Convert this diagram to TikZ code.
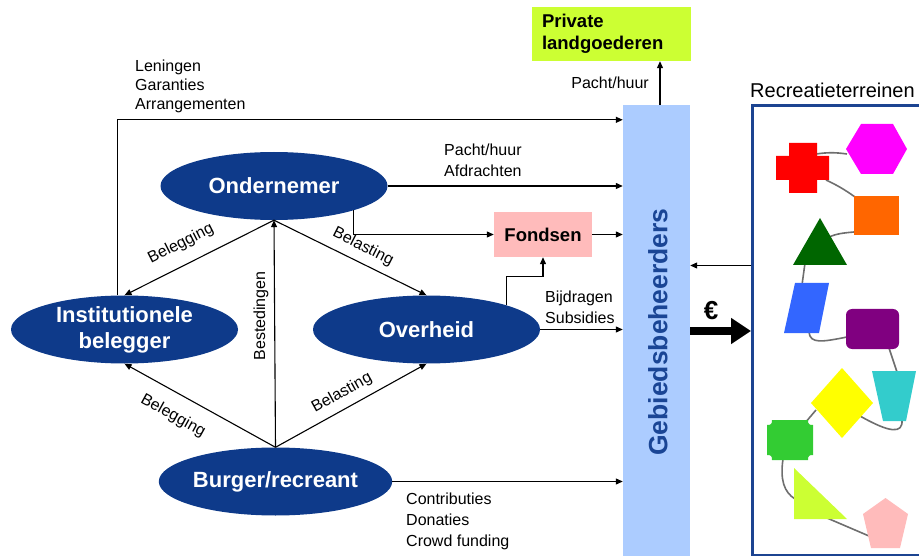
\documentclass[tikz,border=0pt]{standalone}
\usepackage{fontspec}
\setmainfont{Liberation Sans}
\usetikzlibrary{arrows.meta,positioning,shapes.geometric}
\definecolor{actorblue}{RGB}{14,58,138}
\definecolor{barblue}{RGB}{172,204,255}
\definecolor{bartextblue}{RGB}{26,69,149}
\definecolor{fundpink}{RGB}{255,187,187}
\definecolor{estategreen}{RGB}{204,255,51}
\definecolor{frameblue}{RGB}{28,68,145}
\definecolor{linkgray}{RGB}{110,110,110}
\definecolor{hexmagenta}{RGB}{255,0,255}
\definecolor{squareorange}{RGB}{255,102,0}
\definecolor{darkgreen}{RGB}{0,102,0}
\definecolor{paraBlue}{RGB}{51,102,255}
\definecolor{rectpurple}{RGB}{128,0,128}
\definecolor{trapteal}{RGB}{51,204,204}
\definecolor{diayellow}{RGB}{255,255,0}
\definecolor{octgreen}{RGB}{51,204,51}
\tikzset{
  actor/.style={ellipse, fill=actorblue, text=white, align=center, inner sep=0pt, minimum width=227pt, minimum height=68pt, font=\fontsize{22}{26}\selectfont\bfseries},
  flow/.style={-{Triangle[length=7pt,width=6pt]}, line width=1.1pt},
  flowlabel/.style={font=\fontsize{16}{21}\selectfont, align=left, inner sep=0pt},
  boxlabel/.style={font=\fontsize{18.5}{22}\selectfont\bfseries, inner sep=0pt},
  euroarrow/.style={-{Triangle[length=20pt,width=25pt]}, line width=8.5pt},
  shapelink/.style={draw=linkgray, line width=1.6pt}
}

\begin{document}
\begin{tikzpicture}[x=1pt, y=-1pt]
  \useasboundingbox (0,0) rectangle (919,556);
  \clip (0,0) rectangle (919,556);
  % actors
  \node[actor] (onder) at (274,186) {Ondernemer};
  \node[actor] (inst) at (124.5,329.5) {Institutionele\\belegger};
  \node[actor] (over) at (426.5,329.5) {Overheid};
  \node[actor] (burger) at (275.5,481.5) {Burger/recreant};
  % boxes
  \node[fill=barblue, minimum width=67pt, minimum height=452pt, inner sep=0pt] (bar) at (656.5,331) {};
  \node[font=\fontsize{26.5}{30}\selectfont\bfseries, text=bartextblue, rotate=90] (barlabel) at (658,332) {Gebiedsbeheerders};
  \node[boxlabel, fill=fundpink, minimum width=98pt, minimum height=45pt] (fonds) at (543,234.5) {Fondsen};
  \node[boxlabel, fill=estategreen, text width=139pt, inner xsep=10pt, minimum height=54pt, align=left] (priv) at (611.5,34) {Private\\landgoederen};
  \node[draw=frameblue, line width=3pt, minimum width=200pt, minimum height=450pt, anchor=north west] (terrein) at (751,104) {};
  \node[font=\fontsize{20}{22}\selectfont, anchor=base west, inner sep=0pt] (terreinlabel) at (750,98) {Recreatieterreinen};
  % triangle of flows
  \draw[flow] (onder.south) -- (inst.north);
  \draw[flow] (onder.south) -- (over.north);
  \draw[flow] (burger.north) -- (onder.south);
  \draw[flow] (burger.north) -- (inst.south);
  \draw[flow] (burger.north) -- (over.south);
  \node[flowlabel, rotate=27] (bel1) at (181,244) {Belegging};
  \node[flowlabel, rotate=-27] (bls1) at (363,247) {Belasting};
  \node[flowlabel, rotate=90] (best) at (261,316) {Bestedingen};
  \node[flowlabel, rotate=29] (bls2) at (342,393) {Belasting};
  \node[flowlabel, rotate=-29] (bel2) at (173,416) {Belegging};
  % flows to the managers
  \draw[flow] ([xshift=-7pt]inst.north) |- ([yshift=-15pt]bar.north west);
  \draw[flow] (onder.east) -- (onder.east -| bar.west);
  \draw[flow] (onder.-17) |- (fonds.west);
  \draw[flow] (fonds.east) -- (fonds.east -| bar.west);
  \draw[flow] (over.17) -- ++(0,-29) -| (fonds.south);
  \draw[flow] (over.east) -- (over.east -| bar.west);
  \draw[flow] (burger.east) -- (burger.east -| bar.west);
  \draw[flow] ([xshift=3.5pt]bar.north) -- ([xshift=3.5pt]bar.north |- priv.south);
  \draw[flow] ([yshift=65pt]terrein.west) -- ([yshift=65pt]terrein.west -| bar.east);
  \draw[euroarrow] (bar.east) -- (bar.east -| terrein.west);
  \node[font=\fontsize{26}{28}\selectfont\bfseries, inner sep=0pt] (euro) at (711,311) {€};
  \node[flowlabel, anchor=west, font=\fontsize{16}{19}\selectfont] (lening) at (135,86) {Leningen\\Garanties\\Arrangementen};
  \node[flowlabel, anchor=west] (pacht) at (444,160.5) {Pacht/huur\\Afdrachten};
  \node[flowlabel, anchor=west] (bijdr) at (545,307.5) {Bijdragen\\Subsidies};
  \node[flowlabel, anchor=west] (contr) at (406,521.5) {Contributies\\Donaties\\Crowd funding};
  \node[flowlabel, anchor=east] (pachtpriv) at (649,83) {Pacht/huur};
  % recreation areas
  \draw[shapelink] (816,154) to[bend left=8] (847,154);
  \draw[shapelink] (826,180) to[bend left=5] (855,197);
  \draw[shapelink] (854,232) .. controls (842,233) and (836,234) .. (829,237);
  \draw[shapelink] (805,263) -- (802,285);
  \draw[shapelink] (809,332) .. controls (810,344) and (822,342) .. (847,337);
  \draw[shapelink] (889,348) -- (897,372);
  \draw[shapelink] (902,420) .. controls (903,434) and (890,433) .. (860,416);
  \draw[shapelink] (816,410) -- (805,423);
  \draw[shapelink] (783,459) .. controls (780,480) and (784,492) .. (795,499);
  \draw[shapelink] (827,518) -- (869,536);
  \fill[red] (789,143) -- (817,143) -- (817,156) -- (829,156) -- (829,180) -- (817,180) -- (817,193) -- (789,193) -- (789,180) -- (776,180) -- (776,156) -- (789,156) -- cycle;
  \fill[hexmagenta] (846,149) -- (861,124) -- (893,124) -- (907,149) -- (893,174) -- (861,174) -- cycle;
  \fill[squareorange] (854,196) rectangle (899,235);
  \fill[darkgreen] (820,218) -- (847,265) -- (793,265) -- cycle;
  \fill[paraBlue] (795,283) -- (829,283) -- (819,333) -- (784,333) -- cycle;
  \fill[rectpurple, rounded corners=6pt] (846,309) rectangle (899,349);
  \fill[trapteal] (872,371) -- (916,371) -- (906,421) -- (883,421) -- cycle;
  \fill[diayellow] (842,368) -- (873,403) -- (842,438) -- (811,403) -- cycle;
  \fill[octgreen] (772,420) -- (808,420) .. controls (808,424) and (809,425) .. (813,425)
    -- (813,455) .. controls (809,455) and (808,456) .. (808,460) -- (772,460) .. controls (772,456) and (771,455) .. (767,455)
    -- (767,425) .. controls (771,425) and (772,424) .. (772,420) -- cycle;
  \fill[estategreen] (794,468) -- (794,519) -- (847,519) -- cycle;
  \fill[fundpink] (885.5,498) -- (908,514) -- (900,548) -- (871,548) -- (863,514) -- cycle;
\end{tikzpicture}
\end{document}
